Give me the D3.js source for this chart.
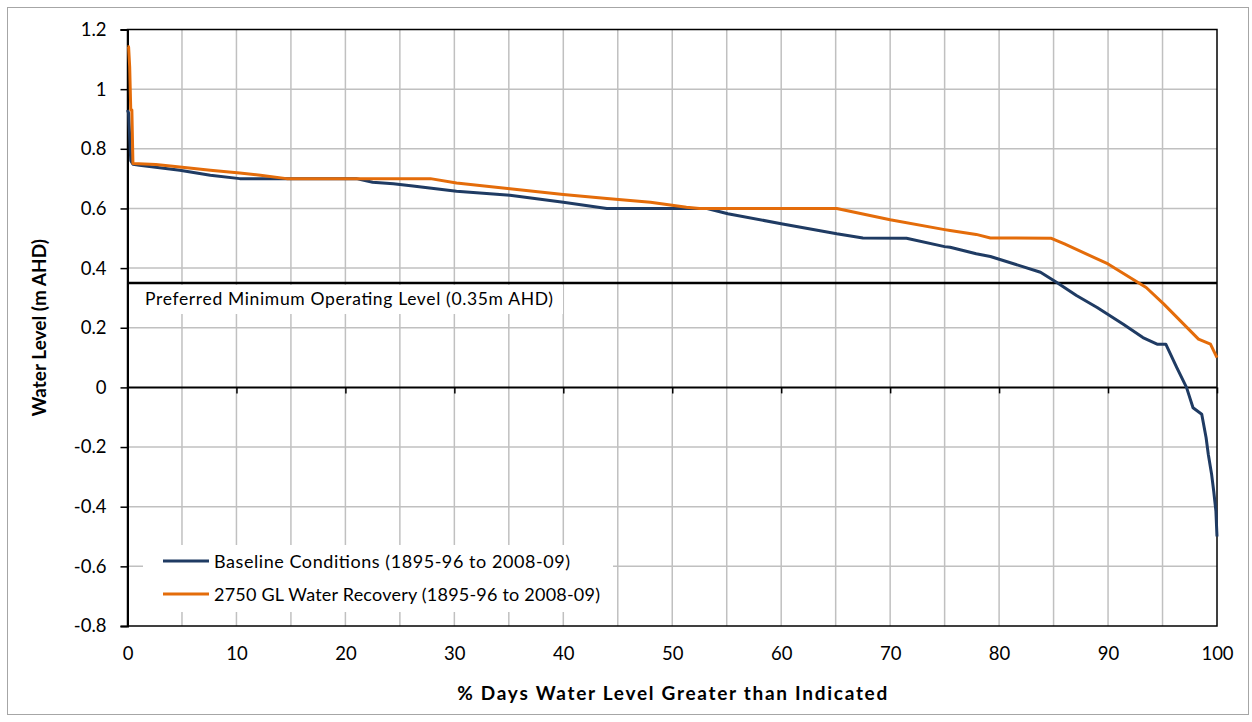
<!DOCTYPE html>
<html><head><meta charset="utf-8">
<script src="https://cdn.jsdelivr.net/npm/d3@7/dist/d3.min.js"></script>
<style>body{margin:0;background:#fff;}svg{display:block;}</style>
</head><body>
<svg id="chart" width="1252" height="722"></svg>
<script>
const xTicks = [0,10,20,30,40,50,60,70,80,90,100];
const yTicks = [-0.8,-0.6,-0.4,-0.2,0,0.2,0.4,0.6,0.8,1,1.2];
const yTickLabels = ["-0.8","-0.6","-0.4","-0.2","0","0.2","0.4","0.6","0.8","1","1.2"];
const refLevel = 0.35;
const refLabel = "Preferred Minimum Operating Level (0.35m AHD)";
const seriesNames = ["Baseline Conditions (1895-96 to 2008-09)", "2750 GL Water Recovery (1895-96 to 2008-09)"];
const baselinePct = [0,0.1,0.3,0.5,1.1,4.8,7.6,10.3,21,22.5,24.4,26.2,30.2,35.1,40,44,51.3,53.2,55.1,60,65.1,67.5,71.5,75,75.5,77.9,79.2,83.8,85.3,87.1,89,91.4,93.2,94.5,95.3,96.3,97.2,97.8,98.6,99.0,99.2,99.5,99.7,99.9,100];
const baselineVal = [0.93,0.92,0.76,0.748,0.745,0.728,0.711,0.70,0.70,0.688,0.683,0.675,0.658,0.644,0.621,0.6,0.6,0.6,0.582,0.549,0.515,0.501,0.50,0.472,0.47,0.448,0.439,0.386,0.352,0.308,0.268,0.212,0.167,0.145,0.145,0.067,0.0,-0.068,-0.09,-0.169,-0.224,-0.29,-0.348,-0.415,-0.5];
const recoveryPct = [0,0.1,0.2,0.3,0.4,0.5,2.6,4.8,7.6,10.3,12.2,14.6,27.8,30.2,35.1,40,44,48,51.3,52.5,65.1,70,75,75.5,77.9,79.2,84.8,86,90,93.5,95.1,98.3,99.4,100];
const recoveryVal = [1.142,1.142,1.075,0.93,0.93,0.751,0.747,0.739,0.728,0.719,0.711,0.70,0.70,0.685,0.666,0.647,0.633,0.621,0.604,0.6,0.6,0.562,0.529,0.526,0.513,0.501,0.50,0.481,0.414,0.335,0.28,0.162,0.145,0.10];

const svg = d3.select("#chart");
const font = "Lato, 'Open Sans', sans-serif";
const L = 127.5, R = 1217, T = 29.5, B = 626;
const x = d3.scaleLinear().domain([0,100]).range([L,R]);
const y = d3.scaleLinear().domain([-0.8,1.2]).range([B,T]);

// outer border
svg.append("rect").attr("x",7.5).attr("y",7.5).attr("width",1241).attr("height",707)
  .attr("fill","#fff").attr("stroke","#a6a6a6").attr("stroke-width",1);

// grid
const g = svg.append("g");
g.selectAll(".vg").data(d3.range(5,100,5)).join("line")
  .attr("x1",d=>x(d)).attr("x2",d=>x(d)).attr("y1",T).attr("y2",B)
  .attr("stroke","#c0c0c0").attr("stroke-width",1.5);
g.selectAll(".hg").data(yTicks.filter(v=>v!==0 && v!==-0.8 && v!==1.2)).join("line")
  .attr("x1",L).attr("x2",R).attr("y1",d=>y(d)).attr("y2",d=>y(d))
  .attr("stroke","#c0c0c0").attr("stroke-width",1.5);

// plot border
svg.append("rect").attr("x",L).attr("y",T).attr("width",R-L).attr("height",B-T)
  .attr("fill","none").attr("stroke","#000").attr("stroke-width",1.5);

// label & legend white backgrounds
svg.append("rect").attr("x",131).attr("y",285).attr("width",432).attr("height",29).attr("fill","#fff");
svg.append("rect").attr("x",143).attr("y",545).attr("width",470).attr("height",67).attr("fill","#fff");

// zero axis with ticks
const xAxis = d3.axisBottom(x).tickValues(xTicks).tickSize(6).tickFormat("");
const xa = svg.append("g").attr("transform",`translate(0,${y(0)})`).call(xAxis);
xa.select(".domain").remove();
xa.selectAll("line").attr("stroke","#000").attr("stroke-width",1.5);
svg.append("line").attr("x1",L).attr("x2",R).attr("y1",y(0)).attr("y2",y(0)).attr("stroke","#000").attr("stroke-width",2);

// y axis
const yAxis = d3.axisLeft(y).tickValues(yTicks).tickSize(7).tickFormat((d,i)=>yTickLabels[i]).tickPadding(14);
const ya = svg.append("g").attr("transform",`translate(${L},0)`).call(yAxis);
ya.select(".domain").attr("stroke","#000").attr("stroke-width",2);
ya.selectAll("line").attr("stroke","#000").attr("stroke-width",1.5);
ya.selectAll("text").attr("font-family",font).attr("font-size",18.5).attr("fill","#000");

// x tick labels at bottom
const xb = svg.append("g").attr("transform",`translate(0,${B})`).call(d3.axisBottom(x).tickValues(xTicks).tickSize(0).tickPadding(21));
xb.select(".domain").remove();
xb.selectAll("text").attr("font-family",font).attr("font-size",18.5).attr("fill","#000");

// reference line
svg.append("line").attr("x1",L).attr("x2",R).attr("y1",y(refLevel)).attr("y2",y(refLevel))
  .attr("stroke","#000").attr("stroke-width",2.5);
svg.append("text").attr("x",145).attr("y",305).attr("font-family",font).attr("font-size",17.5)
  .attr("textLength",408).attr("lengthAdjust","spacing")
  .attr("fill","#000").text(refLabel);

// series
const line = d3.line().x(d=>x(d[0])).y(d=>y(d[1]));
const colors = ["#1f3b63","#e46c0a"];
const baseData = baselinePct.map((p,i)=>[p,baselineVal[i]]);
const recData = recoveryPct.map((p,i)=>[p,recoveryVal[i]]);
svg.append("path").datum(baseData).attr("d",line).attr("fill","none").attr("stroke",colors[0]).attr("stroke-width",3).attr("stroke-linejoin","round");
svg.append("path").datum(recData).attr("d",line).attr("fill","none").attr("stroke",colors[1]).attr("stroke-width",3).attr("stroke-linejoin","round");

// legend
const legendLen = [356, 386];
seriesNames.forEach((n,i)=>{
  const yy = 561 + i*33;
  svg.append("line").attr("x1",163).attr("x2",209).attr("y1",yy).attr("y2",yy).attr("stroke",colors[i]).attr("stroke-width",3);
  svg.append("text").attr("x",214).attr("y",yy+6.5).attr("font-family",font).attr("font-size",18)
    .attr("textLength",legendLen[i]).attr("lengthAdjust","spacing").attr("fill","#000").text(n);
});

// axis titles
svg.append("text").attr("x",(L+R)/2).attr("y",700).attr("text-anchor","middle").attr("font-family",font)
  .attr("font-weight","bold").attr("font-size",19).attr("textLength",430).attr("lengthAdjust","spacing")
  .attr("fill","#000").text("% Days Water Level Greater than Indicated");
svg.append("text").attr("transform",`translate(46,${(T+B)/2}) rotate(-90)`).attr("text-anchor","middle").attr("font-family",font)
  .attr("font-weight","bold").attr("font-size",19).attr("fill","#000").text("Water Level (m AHD)");
</script>
</body></html>
